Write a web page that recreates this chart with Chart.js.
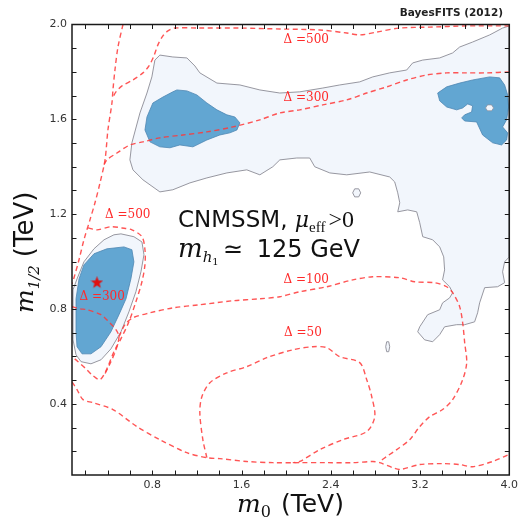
<!DOCTYPE html>
<html>
<head>
<meta charset="utf-8">
<script src="https://cdn.jsdelivr.net/npm/chart.js@4.4.0/dist/chart.umd.min.js"></script>
<style>
  html, body { margin: 0; padding: 0; background: #ffffff; }
  #wrap { width: 519px; height: 523px; }
</style>
</head>
<body>
<div id="wrap"><canvas id="plot" width="519" height="523"></canvas></div>
<script>
// ---------- axes (TeV) ----------
const X_MIN = 0.08, X_MAX = 4.0;
const Y_MIN = 0.1,  Y_MAX = 2.0;
const xTickValues = [0.8, 1.6, 2.4, 3.2, 4.0];
const xTickLabels = ['0.8', '1.6', '2.4', '3.2', '4.0'];
const yTickValues = [0.4, 0.8, 1.2, 1.6, 2.0];
const yTickLabels = ['0.4', '0.8', '1.2', '1.6', '2.0'];

// ---------- 95% credible regions, [m0, m1/2] ----------
const region95Band = [
  [0.868,1.871],[0.984,1.863],[1.110,1.859],[1.182,1.825],[1.226,1.796],[1.379,1.753],
  [1.585,1.745],[1.764,1.724],[1.943,1.711],[2.122,1.716],[2.328,1.732],[2.480,1.745],
  [2.659,1.758],[2.776,1.779],[2.928,1.796],[3.080,1.808],[3.134,1.838],[3.224,1.850],
  [3.376,1.859],[3.492,1.880],[3.555,1.905],[3.671,1.926],[3.824,1.956],[3.940,1.985],
  [4.000,1.994],[4.000,1.020],[3.958,0.999],[3.940,0.957],[3.958,0.911],[3.895,0.894],
  [3.779,0.890],[3.734,0.826],[3.716,0.784],[3.689,0.746],[3.600,0.734],[3.528,0.734],
  [3.420,0.725],[3.376,0.692],[3.313,0.662],[3.241,0.670],[3.179,0.704],[3.197,0.725],
  [3.268,0.776],[3.376,0.797],[3.402,0.826],[3.465,0.847],[3.492,0.869],[3.465,0.894],
  [3.402,0.923],[3.420,0.965],[3.412,1.020],[3.376,1.062],[3.313,1.092],[3.224,1.105],
  [3.197,1.164],[3.170,1.210],[3.089,1.218],[3.000,1.210],[3.018,1.248],[3.000,1.290],
  [2.973,1.336],[2.928,1.357],[2.749,1.378],[2.543,1.366],[2.391,1.374],[2.256,1.400],
  [2.211,1.437],[2.095,1.437],[1.943,1.429],[1.880,1.400],[1.764,1.366],[1.647,1.387],
  [1.468,1.374],[1.289,1.353],[1.137,1.332],[0.984,1.303],[0.868,1.294],[0.716,1.345],
  [0.626,1.387],[0.599,1.429],[0.617,1.501],[0.689,1.627],[0.752,1.711],[0.796,1.779],
  [0.823,1.850]
];
const region95Low = [
  [0.456,1.113],[0.519,1.117],[0.635,1.105],[0.707,1.083],[0.725,1.029],[0.698,0.957],
  [0.653,0.873],[0.590,0.788],[0.519,0.704],[0.429,0.632],[0.340,0.586],[0.250,0.569],
  [0.161,0.578],[0.116,0.607],[0.089,0.670],[0.089,0.881],[0.125,0.927],[0.187,0.999],
  [0.277,1.054],[0.367,1.092]
];
const region95Ring = [[2.596,1.290],[2.614,1.307],[2.650,1.307],[2.668,1.290],[2.650,1.273],[2.614,1.273]];
const region95Speck = [[2.901,0.662],[2.919,0.662],[2.928,0.641],[2.919,0.620],[2.901,0.620],[2.892,0.641]];

// ---------- 68% credible regions ----------
const region68Mid = [
  [1.020,1.724],[1.110,1.720],[1.199,1.703],[1.289,1.669],[1.379,1.640],[1.468,1.619],
  [1.540,1.610],[1.585,1.585],[1.558,1.555],[1.495,1.543],[1.405,1.534],[1.289,1.513],
  [1.164,1.484],[1.047,1.492],[0.958,1.480],[0.868,1.484],[0.779,1.505],[0.734,1.555],
  [0.752,1.610],[0.805,1.669],[0.895,1.694],[0.984,1.716]
];
const region68Edge = [
  [3.358,1.711],[3.376,1.678],[3.439,1.652],[3.528,1.640],[3.582,1.648],[3.627,1.665],
  [3.671,1.657],[3.662,1.631],[3.600,1.619],[3.573,1.606],[3.600,1.593],[3.707,1.589],
  [3.761,1.534],[3.851,1.501],[3.931,1.492],[3.976,1.513],[3.985,1.543],[3.940,1.568],
  [3.976,1.598],[3.994,1.652],[3.985,1.703],[3.958,1.745],[3.913,1.775],[3.824,1.779],
  [3.671,1.766],[3.555,1.753],[3.439,1.737]
];
const region68EdgeHole = [[3.787,1.648],[3.805,1.661],[3.841,1.661],[3.859,1.648],[3.841,1.636],[3.805,1.636]];
const region68Low = [
  [0.277,1.033],[0.393,1.054],[0.546,1.062],[0.617,1.050],[0.635,0.999],[0.608,0.927],
  [0.564,0.843],[0.501,0.776],[0.429,0.704],[0.340,0.641],[0.250,0.611],[0.170,0.611],
  [0.125,0.641],[0.116,0.704],[0.116,0.843],[0.143,0.927],[0.187,0.986]
];

// ---------- fine-tuning contours (Delta) ----------
const delta500Ridge = [
  [0.537,2.000],[0.492,1.905],[0.465,1.808],[0.447,1.724],[0.438,1.669],[0.402,1.555],
  [0.376,1.429],[0.331,1.332],[0.286,1.248],[0.241,1.176],[0.187,1.092],[0.143,1.008],
  [0.098,0.932],[0.080,0.906]
];
const delta500Top = [
  [4.000,1.994],[3.618,1.994],[3.286,1.989],[3.018,1.985],[2.812,1.968],[2.659,1.956],
  [2.543,1.964],[2.301,1.977],[1.943,1.981],[1.585,1.985],[1.226,1.985],[1.002,1.985],
  [0.940,1.973],[0.895,1.952],[0.850,1.914],[0.814,1.867],[0.770,1.825],[0.716,1.796],
  [0.626,1.766],[0.528,1.741],[0.474,1.716],[0.447,1.694]
];
const delta500Loop = [
  [0.223,1.142],[0.304,1.134],[0.429,1.147],[0.528,1.142],[0.617,1.134],[0.707,1.105],
  [0.734,1.050],[0.734,0.987],[0.707,0.915],[0.653,0.831],[0.590,0.746],[0.519,0.675],
  [0.456,0.620],[0.393,0.548],[0.331,0.502],[0.268,0.519],[0.205,0.548],[0.134,0.578],
  [0.080,0.599]
];
const delta300Top = [
  [4.000,1.800],[3.796,1.796],[3.618,1.796],[3.439,1.796],[3.259,1.787],[3.080,1.766],
  [2.901,1.737],[2.722,1.711],[2.543,1.682],[2.328,1.661],[2.122,1.640],[1.943,1.627],
  [1.764,1.598],[1.522,1.568],[1.289,1.547],[1.074,1.534],[0.868,1.522],[0.716,1.505],
  [0.599,1.492],[0.483,1.458],[0.393,1.429],[0.358,1.400]
];
const delta300Low = [
  [0.080,0.810],[0.152,0.801],[0.214,0.797],[0.340,0.776],[0.411,0.746],[0.474,0.713],
  [0.501,0.683],[0.474,0.628],[0.420,0.569],[0.367,0.519]
];
const delta100 = [
  [0.501,0.683],[0.555,0.734],[0.626,0.763],[0.779,0.784],[0.984,0.805],[1.226,0.818],
  [1.522,0.835],[1.764,0.843],[1.943,0.852],[2.122,0.873],[2.364,0.894],[2.597,0.923],
  [2.776,0.936],[3.018,0.932],[3.152,0.915],[3.331,0.911],[3.439,0.894],[3.492,0.869],
  [3.555,0.810],[3.582,0.742],[3.600,0.658],[3.618,0.574],[3.582,0.502],[3.492,0.418],
  [3.402,0.376],[3.286,0.346],[3.197,0.304],[3.107,0.249],[2.991,0.207],[2.901,0.178],
  [2.838,0.157]
];
const deltaFloor = [
  [0.080,0.493],[0.125,0.460],[0.179,0.418],[0.268,0.405],[0.447,0.376],[0.662,0.304],
  [0.868,0.249],[1.110,0.194],[1.289,0.173],[1.405,0.169],[1.647,0.157],[1.880,0.152],
  [2.122,0.152],[2.364,0.152],[2.597,0.152],[2.776,0.157],[2.838,0.152],[2.955,0.131],
  [3.018,0.123],[3.197,0.144],[3.402,0.148],[3.555,0.144],[3.671,0.135],[3.851,0.157],
  [3.994,0.186]
];
const delta50 = [
  [1.289,0.173],[1.253,0.249],[1.226,0.363],[1.244,0.430],[1.316,0.489],[1.468,0.531],
  [1.647,0.557],[1.826,0.595],[2.059,0.628],[2.238,0.641],[2.364,0.637],[2.480,0.599],
  [2.659,0.574],[2.722,0.502],[2.767,0.430],[2.794,0.346],[2.722,0.283],[2.507,0.249],
  [2.301,0.207],[2.122,0.157],[2.059,0.152]
];

// best-fit point
const bestFit = [[0.304, 0.911]];

// ---------- styles ----------
const LIGHT = '#f2f6fc', LIGHT_EDGE = 'rgba(145,145,155,0.95)';
const DARK = '#62a6d2', DARK_EDGE = '#4e87b2';
const RED = 'rgba(255,55,55,0.85)';

const toXY = arr => arr.map(p => ({ x: p[0], y: p[1] }));
const closed = arr => toXY(arr.concat([arr[0]]));

function area(data, fill, edge, width, order) {
  return { data: closed(data), areaColor: fill, borderColor: edge, borderWidth: width,
           showLine: true, pointRadius: 0, tension: 0, order: order };
}
function contour(data) {
  return { data: toXY(data), borderColor: RED, borderWidth: 1.4, borderDash: [5, 3.5],
           showLine: true, pointRadius: 0, tension: 0.3, order: 2 };
}

function starImage(size, color) {
  const c = document.createElement('canvas');
  c.width = c.height = size;
  const g = c.getContext('2d');
  const R = size / 2, r = R * 0.42;
  g.beginPath();
  for (let i = 0; i < 10; i++) {
    const a = -Math.PI / 2 + i * Math.PI / 5, rad = i % 2 ? r : R;
    g.lineTo(R + rad * Math.cos(a), R + rad * Math.sin(a));
  }
  g.closePath();
  g.fillStyle = color;
  g.fill();
  return c;
}

const datasets = [
  area(region95Band, LIGHT, LIGHT_EDGE, 1, 6),
  area(region95Low, LIGHT, LIGHT_EDGE, 1, 6),
  area(region68Mid, DARK, DARK_EDGE, 0.8, 5),
  area(region68Edge, DARK, DARK_EDGE, 0.8, 5),
  area(region68Low, DARK, DARK_EDGE, 0.8, 5),
  area(region68EdgeHole, LIGHT, LIGHT_EDGE, 0.8, 4),
  area(region95Ring, LIGHT, LIGHT_EDGE, 1, 4),
  area(region95Speck, LIGHT, LIGHT_EDGE, 1, 4),
  contour(delta500Ridge), contour(delta500Top), contour(delta500Loop),
  contour(delta300Top), contour(delta300Low), contour(delta100),
  contour(deltaFloor), contour(delta50),
  { data: toXY(bestFit), pointStyle: starImage(13, '#e01010'), pointRadius: 6, showLine: false, order: 1 }
];

// fills the closed outline of a region before its edge is stroked
const regionFill = {
  id: 'regionFill',
  beforeDatasetDraw(chart, args) {
    const ds = chart.data.datasets[args.index];
    if (!ds.areaColor) return;
    const ctx = chart.ctx, a = chart.chartArea, pts = args.meta.data;
    ctx.save();
    ctx.beginPath();
    ctx.rect(a.left, a.top, a.right - a.left, a.bottom - a.top);
    ctx.clip();
    ctx.beginPath();
    pts.forEach((p, i) => i ? ctx.lineTo(p.x, p.y) : ctx.moveTo(p.x, p.y));
    ctx.closePath();
    ctx.fillStyle = ds.areaColor;
    ctx.fill();
    ctx.restore();
  }
};

function runs(ctx, x, y, parts) {
  for (const p of parts) {
    ctx.font = p.font;
    const dx = p.dx || 0;
    ctx.fillText(p.t, x + dx, y + (p.dy || 0));
    x += dx + ctx.measureText(p.t).width;
  }
}

// frame, inward ticks, contour labels and titles
const decorations = {
  id: 'decorations',
  afterDraw(chart) {
    const ctx = chart.ctx, a = chart.chartArea;
    const xs = chart.scales.x, ys = chart.scales.y;
    ctx.save();
    ctx.strokeStyle = '#1a1a1a';
    ctx.lineWidth = 1;
    const T = 4.5;
    ctx.beginPath();
    for (let k = 1; k < 20; k++) {
      const px = Math.round(xs.getPixelForValue(k * 0.2)) + 0.5;
      ctx.moveTo(px, a.bottom); ctx.lineTo(px, a.bottom - T);
      ctx.moveTo(px, a.top); ctx.lineTo(px, a.top + T);
    }
    for (let k = 2; k < 20; k++) {
      const py = Math.round(ys.getPixelForValue(k * 0.1)) + 0.5;
      ctx.moveTo(a.left, py); ctx.lineTo(a.left + T, py);
      ctx.moveTo(a.right, py); ctx.lineTo(a.right - T, py);
    }
    ctx.stroke();
    ctx.lineWidth = 1.5;
    ctx.strokeRect(a.left, a.top, a.right - a.left, a.bottom - a.top);

    // contour levels
    ctx.fillStyle = '#ff2a2a';
    ctx.font = '12px "DejaVu Serif"';
    ctx.textAlign = 'center';
    ctx.textBaseline = 'middle';
    const levelTags = [
      ['\u0394 =500', 2.18, 1.935], ['\u0394 =300', 2.18, 1.690],
      ['\u0394 =500', 0.58, 1.197], ['\u0394 =300', 0.35, 0.852],
      ['\u0394 =100', 2.18, 0.923], ['\u0394 =50', 2.15, 0.700]
    ];
    for (const [t, vx, vy] of levelTags) {
      ctx.fillText(t, xs.getPixelForValue(vx), ys.getPixelForValue(vy));
    }

    // model annotation
    ctx.fillStyle = '#111';
    ctx.textAlign = 'left';
    ctx.textBaseline = 'alphabetic';
    runs(ctx, 178, 227, [
      { t: 'CNMSSM, ', font: '23px "DejaVu Sans"' },
      { t: '\u03bc', font: 'italic 22px "DejaVu Serif"' },
      { t: 'eff', font: '15px "Liberation Serif"', dy: 5 },
      { t: '>0', font: '24px "Liberation Serif"', dx: 3 }
    ]);
    runs(ctx, 178, 257, [
      { t: 'm', font: 'italic 26px "DejaVu Serif"' },
      { t: 'h', font: 'italic 15px "DejaVu Serif"', dy: 5 },
      { t: '1', font: '10px "DejaVu Serif"', dy: 8 },
      { t: '\u2243', font: '24px "DejaVu Sans"', dx: 4 },
      { t: '125 GeV', font: '24px "DejaVu Sans"', dx: 14 }
    ]);

    // axis titles
    runs(ctx, 237, 512, [
      { t: 'm', font: 'italic 25px "DejaVu Serif"' },
      { t: '0', font: '16px "DejaVu Serif"', dy: 5 },
      { t: '(TeV)', font: '25px "DejaVu Sans"', dx: 10 }
    ]);
    ctx.save();
    ctx.translate(33, 250);
    ctx.rotate(-Math.PI / 2);
    runs(ctx, -63, 0, [
      { t: 'm', font: 'italic 25px "DejaVu Serif"' },
      { t: '1/2', font: 'italic 15px "DejaVu Serif"', dy: 6 },
      { t: '(TeV)', font: '26px "DejaVu Sans"', dx: 8 }
    ]);
    ctx.restore();

    ctx.font = 'bold 10.5px "DejaVu Sans"';
    ctx.textAlign = 'right';
    ctx.fillStyle = '#222';
    ctx.fillText('BayesFITS (2012)', 503, 16);
    ctx.restore();
  }
};

const tickFont = { family: '"DejaVu Sans"', size: 11 };

new Chart(document.getElementById('plot'), {
  type: 'scatter',
  data: { datasets },
  options: {
    responsive: false,
    animation: false,
    devicePixelRatio: 1,
    layout: { padding: { left: 0, top: 24.5, right: 9.7, bottom: 0 } },
    plugins: { legend: { display: false }, tooltip: { enabled: false } },
    scales: {
      x: {
        type: 'linear', min: X_MIN, max: X_MAX,
        grid: { display: false, drawTicks: false }, border: { display: false },
        afterBuildTicks: s => { s.ticks = xTickValues.map(v => ({ value: v })); },
        afterFit: s => { s.height = 48; s.paddingLeft = 0; s.paddingRight = 0; },
        ticks: { autoSkip: false, maxRotation: 0, padding: 4, color: '#333', font: tickFont,
                 callback: (v, i) => xTickLabels[i] }
      },
      y: {
        type: 'linear', min: Y_MIN, max: Y_MAX,
        grid: { display: false, drawTicks: false }, border: { display: false },
        afterBuildTicks: s => { s.ticks = yTickValues.map(v => ({ value: v })); },
        afterFit: s => { s.width = 72; s.paddingTop = 0; s.paddingBottom = 0; },
        ticks: { autoSkip: false, padding: 5, color: '#333', font: tickFont,
                 callback: (v, i) => yTickLabels[i] }
      }
    }
  },
  plugins: [regionFill, decorations]
});
</script>
</body>
</html>
